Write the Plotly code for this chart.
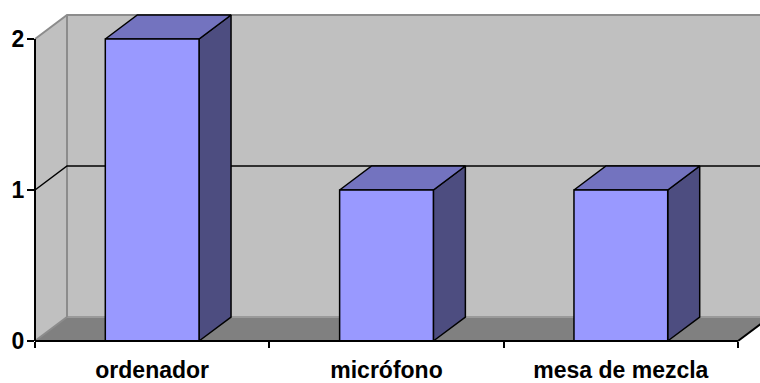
import plotly.graph_objects as go

# Chart data
categories = ["ordenador", "micrófono", "mesa de mezcla"]
values = [2, 1, 1]
y_ticks = [0, 1, 2]
gridlines = [1]

# Canvas / projection settings (pixels)
W, H = 760, 383
X0, X1 = 35, 738          # front category axis span
Y0, Y2 = 341, 39          # front value axis: pixel rows of 0 and of the top value
DX_PX, DY_PX = 32, 24     # depth offset of the 3D box
BAR_W = 0.4               # bar width as a fraction of a category slot

n = len(categories)
vmax = max(y_ticks)
sx = (X1 - X0) / n                 # px per category unit
sy = (Y0 - Y2) / vmax              # px per value unit
d = DX_PX / sx                     # depth in category units
h = DY_PX / sy                     # depth rise in value units

x_range = [-0.5 - X0 / sx, -0.5 + (W - X0) / sx]
y_range = [-(H - Y0) / sy, Y0 / sy]

FRONT = "#9999FF"
TOP = "#7373BF"
SIDE = "#4D4D80"
WALL = "#C0C0C0"
FLOOR = "#808080"
EDGE = "#8C8C8C"

fig = go.Figure()


def poly(xs, ys, fill, line_color, line_width=1.5):
    fig.add_trace(go.Scatter(
        x=list(xs) + [xs[0]], y=list(ys) + [ys[0]],
        mode="lines", fill="toself", fillcolor=fill,
        line=dict(color=line_color, width=line_width),
        hoverinfo="skip", showlegend=False,
    ))


def seg(xs, ys, color, width):
    fig.add_trace(go.Scatter(
        x=xs, y=ys, mode="lines", line=dict(color=color, width=width),
        hoverinfo="skip", showlegend=False,
    ))


left, right = -0.5, n - 0.5

# Walls and floor
poly([left + d, right + d, right + d, left + d], [h, h, vmax + h, vmax + h], WALL, WALL, 0)
poly([left, left + d, left + d, left], [0, h, vmax + h, vmax], WALL, WALL, 0)
poly([left, right, right + d, left + d], [0, 0, h, h], FLOOR, FLOOR, 0)

# Wall edges
seg([left + d, right + d], [h, h], "#9A9A9A", 2)
seg([left, left + d], [0, h], EDGE, 2)
seg([left, left + d, right + d], [vmax, vmax + h, vmax + h], EDGE, 2)
seg([left + d, left + d], [h, vmax + h], EDGE, 2)
seg([right, right + d], [0, h], "black", 2)

# Gridlines on side and back walls
for g in gridlines:
    seg([left, left + d, right + d], [g, g + h, g + h], "black", 1.5)

# 3D bars
for i, v in enumerate(values):
    a, b = i - BAR_W / 2, i + BAR_W / 2
    poly([b, b + d, b + d, b], [0, h, v + h, v], SIDE, "black")
    poly([a, a + d, b + d, b], [v, v + h, v + h, v], TOP, "black")
    poly([a, b, b, a], [0, 0, v, v], FRONT, "black")

# Front axes (carry the tick labels)
fig.add_trace(go.Scatter(
    x=categories, y=values, xaxis="x2", yaxis="y2",
    mode="markers", marker=dict(opacity=0), hoverinfo="skip", showlegend=False,
))

font = dict(family="Arial, Liberation Sans", size=23, color="black", weight="bold")

fig.update_layout(
    width=W, height=H,
    margin=dict(l=0, r=0, t=0, b=0, autoexpand=False),
    paper_bgcolor="white",
    plot_bgcolor="rgba(0,0,0,0)",
    xaxis=dict(domain=[0, 1], range=x_range, visible=False, fixedrange=True),
    yaxis=dict(domain=[0, 1], range=y_range, visible=False, fixedrange=True),
    xaxis2=dict(
        type="category", domain=[X0 / W, X1 / W], range=[-0.5, n - 0.5],
        anchor="free", position=(H - Y0) / H,
        showline=True, linecolor="black", linewidth=2,
        ticks="outside", tickson="boundaries", ticklen=6, tickwidth=2, tickcolor="black",
        ticklabelstandoff=8, automargin=False,
        showgrid=False, zeroline=False, tickfont=font, fixedrange=True,
    ),
    yaxis2=dict(
        domain=[(H - Y0) / H, (H - Y2) / H], range=[0, vmax],
        anchor="free", position=X0 / W,
        tickvals=y_ticks, showline=True, linecolor="black", linewidth=2,
        ticks="outside", ticklen=7, tickwidth=2, tickcolor="black", automargin=False,
        ticklabelstandoff=-2,
        showgrid=False, zeroline=False, tickfont=font, fixedrange=True,
    ),
)

fig.write_html("out.html")
